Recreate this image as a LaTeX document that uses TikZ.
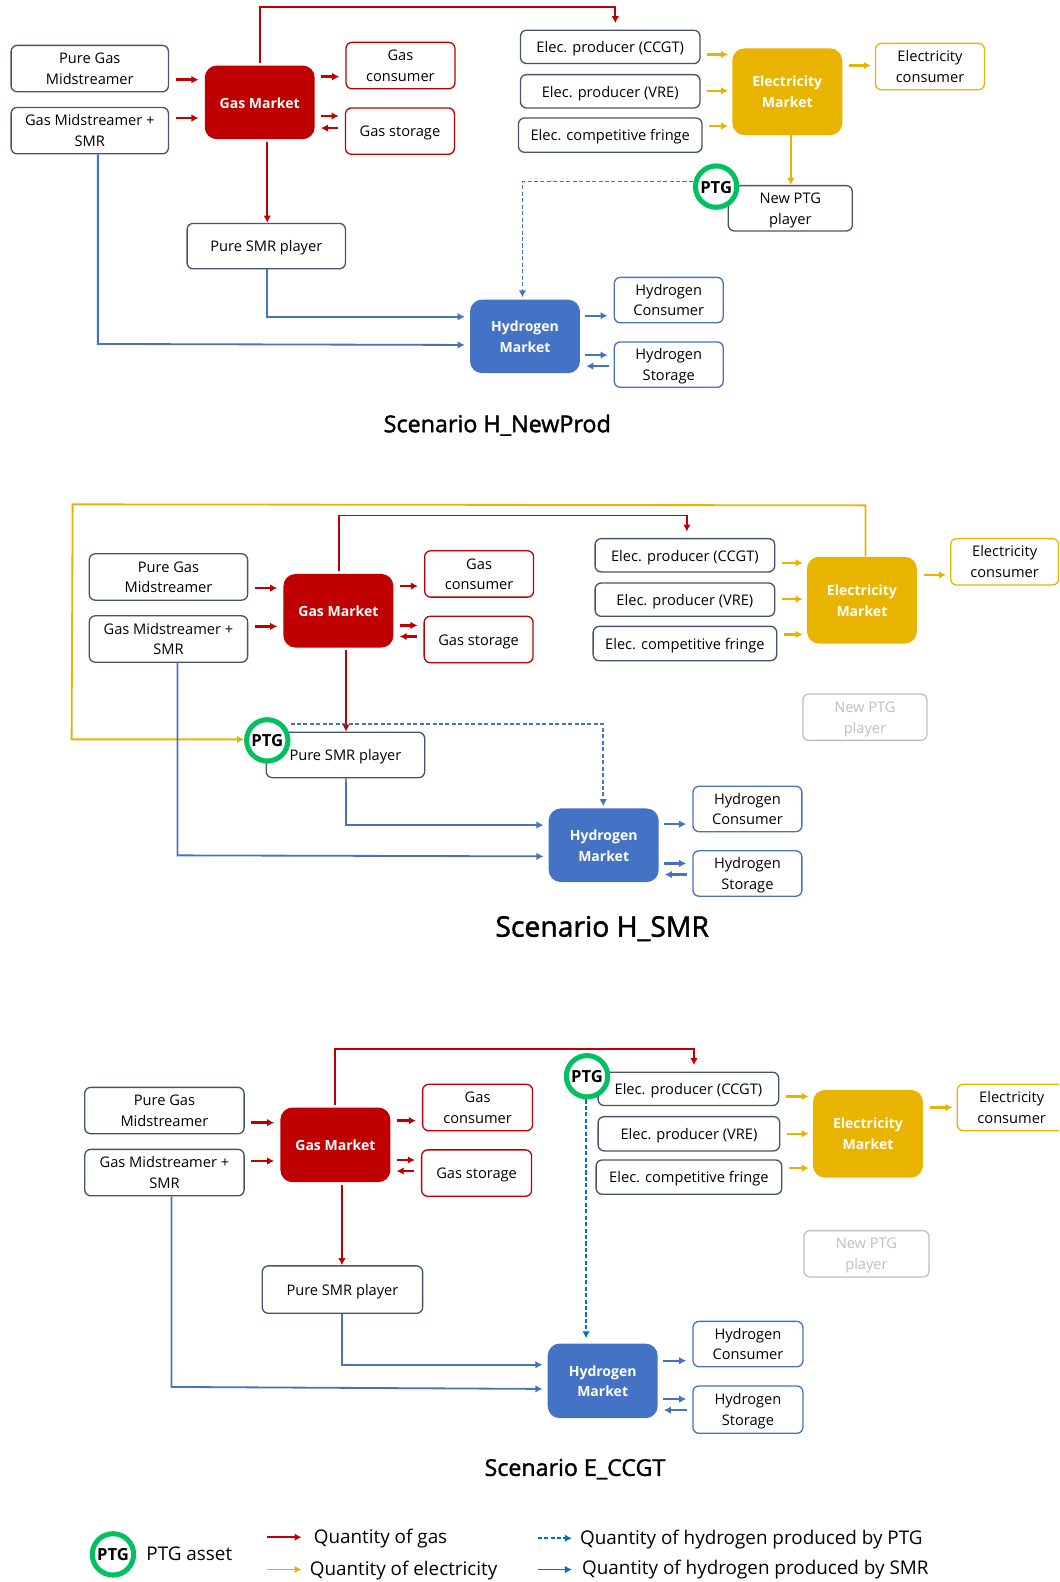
\documentclass[tikz,border=0pt]{standalone}
\usepackage{fontspec}
\setmainfont{Open Sans}
\newfontfamily\semib[FakeBold=1.6]{Open Sans}
\usetikzlibrary{arrows.meta,calc}
\definecolor{boxc}{HTML}{44546A}
\definecolor{redc}{HTML}{C00000}
\definecolor{yelc}{HTML}{E9B400}
\definecolor{bluc}{HTML}{4472C4}
\definecolor{skyc}{HTML}{0070C0}
\definecolor{grnc}{HTML}{00C060}
\definecolor{grayc}{HTML}{BFBFBF}
\definecolor{lgrn}{HTML}{70AD47}
\tikzset{
  x=1pt,y=-1pt,
  vadj/.style={execute at begin node={\rule{0pt}{15.5pt}},execute at end node={\rule[-4pt]{0pt}{4pt}}},
  base/.style={vadj,rounded corners=6,fill=white,line width=1.3,inner sep=0pt,font=\fontsize{14.5}{20.6}\selectfont},
  gbox/.style={base,draw=boxc},
  rbox/.style={base,draw=redc},
  ybox/.style={base,draw=yelc},
  bbox/.style={base,draw=bluc},
  nbox/.style={base,draw=grayc,text=grayc},
  market/.style={vadj,rounded corners=12,inner sep=0pt,text=white,minimum width=109,font=\fontsize{13.9}{20.6}\selectfont\bfseries},
  ptgc/.style={circle,draw=grnc,fill=white,line width=5,minimum size=41,inner sep=0pt,execute at begin node={\rule{0pt}{13pt}},font=\fontsize{16.5}{17}\selectfont\bfseries},
  tip/.style={-{Latex[length=7pt,width=7.5pt]}},
  shortr/.style={tip,draw=redc,line width=2.4,shorten <=6.5,shorten >=6},
  shorty/.style={tip,draw=yelc,line width=2.4,shorten <=6.5,shorten >=4},
  shortb/.style={tip,draw=bluc,line width=2.4,shorten <=5,shorten >=6},
  longr/.style={tip,draw=redc,line width=1.8,shorten <=2.5},
  longy/.style={tip,draw=yelc,line width=1.8},
  longb/.style={tip,draw=bluc,line width=1.8,shorten >=5},
  dashb/.style={tip,draw=bluc,line width=1.6,dash pattern=on 4pt off 2.4pt},
  dashs/.style={tip,draw=skyc,line width=1.6,dash pattern=on 4pt off 2.4pt},
  lgd/.style={anchor=west,inner sep=0pt,font=\fontsize{18.7}{20}\selectfont},
}
% horizontal short arrow between two named nodes at height y
\newcommand{\harr}[4]{\draw[#1] (#2 |- 0,#4) -- (#3 |- 0,#4);}
% two centred lines, placed independently of the node's own height
\newcommand{\tl}[2]{\smash{\raisebox{0.8pt}{\begin{tabular}{@{}c@{}}#1\\#2\end{tabular}}}}
\begin{document}
\begin{tikzpicture}
\useasboundingbox (0,0) rectangle (1050,1568.4);
\clip (0,0) rectangle (1050,1568.4);
\fill[white] (0,0) rectangle (1050,1568.4);

%%% Scenario 1
\node[gbox,minimum width=156,minimum height=46] (apg) at (89,68) {\tl{Pure Gas}{Midstreamer}};
\node[gbox,minimum width=156,minimum height=46] (agm) at (89,129.5) {\tl{Gas Midstreamer +}{SMR}};
\node[market,fill=redc,minimum height=73] (agas) at (257.5,101.5) {Gas Market};
\node[rbox,minimum width=108,minimum height=46] (agc) at (397,65) {\tl{Gas}{consumer}};
\node[rbox,minimum width=108,minimum height=46] (ags) at (396.5,130) {Gas storage};
\node[gbox,minimum width=157,minimum height=45] (asmr) at (264,244) {Pure SMR player};
\node[market,fill=bluc,minimum height=73] (ahm) at (520.5,333.5) {\tl{Hydrogen}{Market}};
\node[bbox,minimum width=108,minimum height=45] (ahc) at (663,297.5) {\tl{Hydrogen}{Consumer}};
\node[bbox,minimum width=108,minimum height=45] (ahs) at (663,361.5) {\tl{Hydrogen}{Storage}};
\node[gbox,minimum width=178,minimum height=33] (ae1) at (605,46.5) {Elec. producer (CCGT)};
\node[gbox,minimum width=178,minimum height=33] (ae2) at (605,90.5) {Elec. producer (VRE)};
\node[gbox,minimum width=182,minimum height=34] (ae3) at (605,134) {Elec. competitive fringe};
\node[market,fill=yelc,minimum height=86] (aem) at (780.5,91) {\tl{Electricity}{Market}};
\node[ybox,minimum width=108,minimum height=46] (aec) at (922,66) {\tl{Electricity}{consumer}};
\node[gbox,minimum width=123,minimum height=45] (anp) at (783.5,206.5) {\tl{New PTG}{player}};
\node[ptgc] (aptg) at (710,185) {PTG};
\node[font=\semib\fontsize{23.1}{25}\selectfont] (at) at (493,421.5) {Scenario H\_NewProd};

\harr{shortr}{apg.east}{agas.west}{79}
\harr{shortr}{agm.east}{agas.west}{117}
\harr{shortr}{agas.east}{agc.west}{76}
\harr{shortr}{agas.east}{ags.west}{115}
\draw[shortr] (ags.west |- 0,127) -- (agas.east |- 0,127);
\draw[longr] (agas.north -| 258,0) -- (258,7) -- (610,7) -- (610,23);
\draw[longr] (agas.south -| 265,0) -- (asmr.north -| 265,0);
\draw[longb] (asmr.south -| 265,0) -- (265,314) -- (ahm.west |- 0,314);
\draw[longb] (agm.south -| 97,0) -- (97,341) -- (ahm.west |- 0,342);
\harr{shorty}{ae1.east}{aem.west}{54}
\harr{shorty}{ae2.east}{aem.west}{90}
\harr{shorty}{ae3.east}{aem.west}{125}
\draw[shorty] (aem.east |- 0,65) -- (aec.west |- 0,65);
\draw[longy] (aem.south -| 784,0) -- (anp.north -| 784,0);
\draw[dashb,shorten >=2] (aptg.west |- 0,180) -- (518,180) -- (ahm.north -| 518,0);
\harr{shortb}{ahm.east}{ahc.west}{313}
\harr{shortb}{ahm.east}{ahs.west}{352}
\draw[shortb] (ahs.west |- 0,363) -- (ahm.east |- 0,363);

%%% Scenario 2
\node[gbox,minimum width=157,minimum height=46] (bpg) at (167,572) {\tl{Pure Gas}{Midstreamer}};
\node[gbox,minimum width=157,minimum height=46] (bgm) at (167,633.5) {\tl{Gas Midstreamer +}{SMR}};
\node[market,fill=redc,minimum height=73] (bgas) at (335.5,605.5) {Gas Market};
\node[rbox,minimum width=108,minimum height=46] (bgc) at (475,569) {\tl{Gas}{consumer}};
\node[rbox,minimum width=108,minimum height=46] (bgs) at (474.5,634) {Gas storage};
\node[gbox,minimum width=157,minimum height=45] (bsmr) at (342.5,748.5) {Pure SMR player};
\node[market,fill=bluc,minimum height=73] (bhm) at (598.5,838) {\tl{Hydrogen}{Market}};
\node[bbox,minimum width=108,minimum height=45] (bhc) at (741,802) {\tl{Hydrogen}{Consumer}};
\node[bbox,minimum width=108,minimum height=45] (bhs) at (741,866) {\tl{Hydrogen}{Storage}};
\node[gbox,minimum width=178,minimum height=33] (be1) at (679,550.5) {Elec. producer (CCGT)};
\node[gbox,minimum width=178,minimum height=33] (be2) at (679,594.5) {Elec. producer (VRE)};
\node[gbox,minimum width=182,minimum height=34] (be3) at (679,638) {Elec. competitive fringe};
\node[market,fill=yelc,minimum height=86] (bem) at (854.5,595) {\tl{Electricity}{Market}};
\node[ybox,minimum width=107,minimum height=46] (bec) at (996,557) {\tl{Electricity}{consumer}};
\node[nbox,minimum width=123,minimum height=46] (bnp) at (857.5,711) {\tl{New PTG}{player}};
\node[ptgc] (bptg) at (265,734) {PTG};
\node[font=\semib\fontsize{28.1}{30}\selectfont] (bt) at (597,920.5) {Scenario H\_SMR};

\harr{shortr}{bpg.east}{bgas.west}{583}
\harr{shortr}{bgm.east}{bgas.west}{621}
\harr{shortr}{bgas.east}{bgc.west}{581}
\harr{shortr}{bgas.east}{bgs.west}{620}
\draw[shortr] (bgs.west |- 0,631) -- (bgas.east |- 0,631);
\draw[longr] (bgas.north -| 336,0) -- (336,511) -- (681,511) -- (681,527);
\draw[longr] (bgas.south -| 343,0) -- (bsmr.north -| 343,0);
\draw[longy] (bem.north -| 858,0) -- (858,501) -- (72,500) -- (71,733) -- (bptg.west |- 0,733);
\harr{shorty}{be1.east}{bem.west}{558}
\harr{shorty}{be2.east}{bem.west}{594}
\harr{shorty}{be3.east}{bem.west}{629}
\draw[shorty] (bem.east |- 0,570) -- (bec.west |- 0,570);
\draw[dashb,shorten >=2] (bptg.east |- 0,718) -- (598,718) -- (bhm.north -| 598,0);
\draw[longb] (bsmr.south -| 343,0) -- (343,818) -- (bhm.west |- 0,818);
\draw[lgrn,line width=1.8] (bsmr.south -| 343,0) -- (343,775);
\draw[longb] (bgm.south -| 176,0) -- (176,848) -- (bhm.west |- 0,849);
\harr{shortb}{bhm.east}{bhc.west}{817}
\harr{shortb}{bhm.east}{bhs.west}{856}
\draw[shortb] (bhs.west |- 0,867) -- (bhm.east |- 0,867);

%%% Scenario 3
\node[gbox,minimum width=158,minimum height=46] (cpg) at (163,1101) {\tl{Pure Gas}{Midstreamer}};
\node[gbox,minimum width=158,minimum height=46] (cgm) at (163,1162.5) {\tl{Gas Midstreamer +}{SMR}};
\node[market,fill=redc,minimum height=74] (cgas) at (332.5,1135) {Gas Market};
\node[rbox,minimum width=109,minimum height=46] (cgc) at (473.5,1098) {\tl{Gas}{consumer}};
\node[rbox,minimum width=109,minimum height=46] (cgs) at (472.5,1163) {Gas storage};
\node[gbox,minimum width=159,minimum height=47] (csmr) at (339.5,1278.5) {Pure SMR player};
\node[market,fill=bluc,minimum height=74] (chm) at (597.5,1369) {\tl{Hydrogen}{Market}};
\node[bbox,minimum width=109,minimum height=45] (chc) at (741.5,1332.5) {\tl{Hydrogen}{Consumer}};
\node[bbox,minimum width=109,minimum height=47] (chs) at (741.5,1397.5) {\tl{Hydrogen}{Storage}};
\node[gbox,minimum width=179,minimum height=33] (ce1) at (682.5,1079.5) {Elec. producer (CCGT)};
\node[gbox,minimum width=180,minimum height=34] (ce2) at (683,1124) {Elec. producer (VRE)};
\node[gbox,minimum width=184,minimum height=34] (ce3) at (683,1167) {Elec. competitive fringe};
\node[market,fill=yelc,minimum height=87] (cem) at (860.5,1124) {\tl{Electricity}{Market}};
\node[ybox,minimum width=108,minimum height=46] (cec) at (1003,1098) {\tl{Electricity}{consumer}};
\node[nbox,minimum width=124,minimum height=46] (cnp) at (859,1243) {\tl{New PTG}{player}};
\node[ptgc] (cptg) at (582,1067) {PTG};
\node[font=\semib\fontsize{23}{25}\selectfont] (ct) at (570,1456.5) {Scenario E\_CCGT};

\harr{shortr}{cpg.east}{cgas.west}{1113}
\harr{shortr}{cgm.east}{cgas.west}{1151}
\harr{shortr}{cgas.east}{cgc.west}{1111}
\harr{shortr}{cgas.east}{cgs.west}{1150}
\draw[shortr] (cgs.west |- 0,1161) -- (cgas.east |- 0,1161);
\draw[longr] (cgas.north -| 332,0) -- (332,1040) -- (688,1040) -- (688,1056);
\draw[longr] (cgas.south -| 339,0) -- (csmr.north -| 339,0);
\draw[longb] (csmr.south -| 339,0) -- (339,1353) -- (chm.west |- 0,1353);
\draw[longb] (cgm.south -| 170,0) -- (170,1375) -- (chm.west |- 0,1377);
\draw[dashs,shorten >=5] (cptg.south -| 581,0) -- (chm.north -| 581,0);
\harr{shorty}{ce1.east}{cem.west}{1087}
\harr{shorty}{ce2.east}{cem.west}{1124}
\harr{shorty}{ce3.east}{cem.west}{1158}
\draw[shorty] (cem.east |- 0,1098) -- (cec.west |- 0,1098);
\harr{shortb}{chm.east}{chc.west}{1349}
\harr{shortb}{chm.east}{chs.west}{1387}
\draw[shortb] (chs.west |- 0,1398) -- (chm.east |- 0,1398);

%%% Legend
\node[ptgc] (lptg) at (112,1541) {PTG};
\node[lgd] (lasset) at (145,1540) {PTG asset};
\node[lgd] (lgas) at (311,1525.5) {Quantity of gas};
\node[lgd] (lele) at (307,1557.5) {Quantity of electricity};
\node[lgd] (lhp) at (575,1526.5) {Quantity of hydrogen produced by PTG};
\node[lgd] (lhs) at (577,1556.5) {Quantity of hydrogen produced by SMR};
\coordinate (l1) at (265,1524);
\coordinate (l2) at (265,1556);
\coordinate (l3) at (533,1525);
\coordinate (l4) at (533,1556);
\draw[tip,draw=redc,line width=1.8] (l1) -- (299,1524);
\draw[longy] (l2) -- (299,1556);
\draw[dashs] (l3) -- (567,1525);
\draw[tip,draw=skyc,line width=1.8] (l4) -- (567,1556);
\end{tikzpicture}
\end{document}
